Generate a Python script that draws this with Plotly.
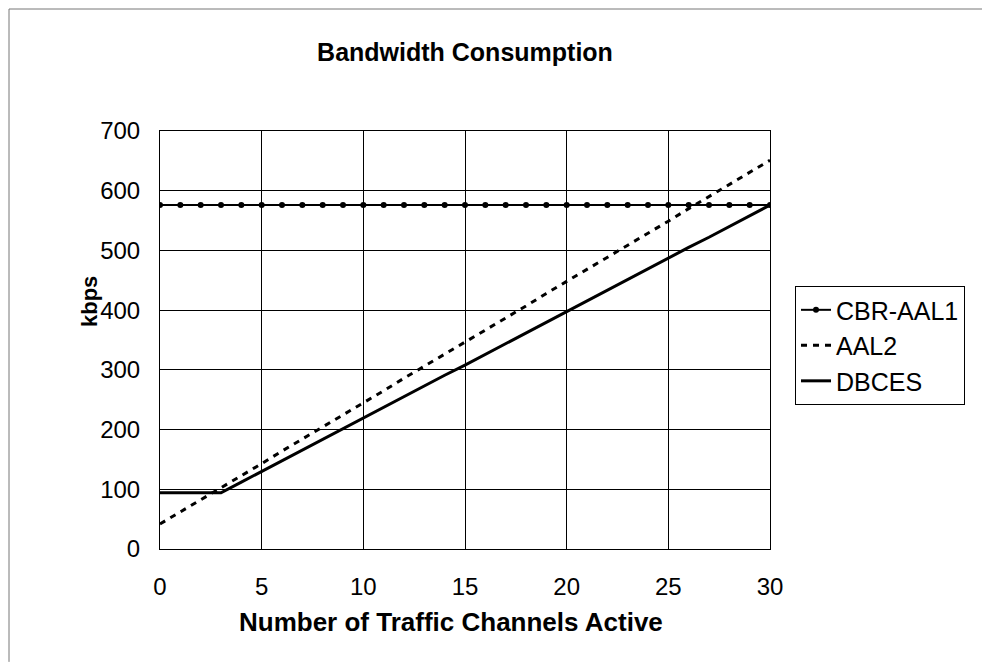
import plotly.graph_objects as go

channels = list(range(0, 31))
cbr_aal1 = [576] * 31
aal2 = [42, 62, 83, 103, 123, 143, 164, 184, 204, 225, 245, 265, 286, 306, 326, 346,
        367, 387, 407, 428, 448, 468, 489, 509, 529, 549, 570, 590, 610, 631, 651]
dbces = [94, 94, 94, 94, 112, 130, 148, 166, 184, 201, 219, 237, 255, 273, 291, 308,
         326, 344, 362, 380, 398, 415, 433, 451, 469, 487, 505, 522, 540, 558, 576]

FONT = "Liberation Sans, Arial, sans-serif"

fig = go.Figure()
fig.add_trace(go.Scatter(x=channels, y=cbr_aal1, name="CBR-AAL1", mode="lines+markers",
                         line=dict(color="black", width=2),
                         marker=dict(color="black", size=6, symbol="circle")))
fig.add_trace(go.Scatter(x=channels, y=aal2, name="AAL2", mode="lines",
                         line=dict(color="black", width=3, dash="6px,6px")))
fig.add_trace(go.Scatter(x=channels, y=dbces, name="DBCES", mode="lines",
                         line=dict(color="black", width=3)))

fig.update_layout(
    width=982, height=656,
    margin=dict(l=152, r=220, t=123, b=115),
    paper_bgcolor="white", plot_bgcolor="white",
    font=dict(family=FONT, color="black", size=24),
    title=dict(text="<b>Bandwidth Consumption</b>", x=0.5, xref="paper",
               y=1 - 44 / 656, yref="container", yanchor="middle",
               font=dict(size=25, family=FONT, color="black")),
    xaxis=dict(range=[0, 30], dtick=5, tick0=0, showgrid=True, gridcolor="black", gridwidth=1,
               showline=True, linecolor="black", linewidth=1, mirror=True, zeroline=False,
               ticks="", tickfont=dict(size=24), ticklabelstandoff=16),
    yaxis=dict(range=[0, 700], dtick=100, tick0=0, showgrid=True, gridcolor="black", gridwidth=1,
               showline=True, linecolor="black", linewidth=1, mirror=True, zeroline=False,
               ticks="", tickfont=dict(size=24), ticklabelstandoff=14),
    legend=dict(x=1.041, y=0.629, xanchor="left", yanchor="top",
                bordercolor="black", borderwidth=1, bgcolor="white",
                font=dict(size=25, family=FONT, color="black"),
                itemwidth=30),
    showlegend=True,
)

# axis titles as annotations (positioned like the reference)
fig.add_annotation(text="<b>Number of Traffic Channels Active</b>", xref="paper", yref="paper",
                   x=(451 - 160) / 610, y=(549 - 622) / 418, xanchor="center", yanchor="middle",
                   showarrow=False, font=dict(size=26, family=FONT, color="black"))
fig.add_annotation(text="<b>kbps</b>", textangle=-90, xref="paper", yref="paper",
                   x=(89 - 160) / 610, y=(549 - 302) / 418, xanchor="center", yanchor="middle",
                   showarrow=False, font=dict(size=22, family=FONT, color="black"))

# outer chart frame (top and left edges visible in the reference)
fig.add_shape(type="line", xref="paper", yref="paper", x0=(9 - 160) / 610, x1=(989 - 160) / 610,
              y0=(549 - 9) / 418, y1=(549 - 9) / 418, line=dict(color="#777", width=1))
fig.add_shape(type="line", xref="paper", yref="paper", x0=(9 - 160) / 610, x1=(9 - 160) / 610,
              y0=(549 - 9) / 418, y1=-0.27, line=dict(color="#777", width=1))

fig.write_html("out.html")
